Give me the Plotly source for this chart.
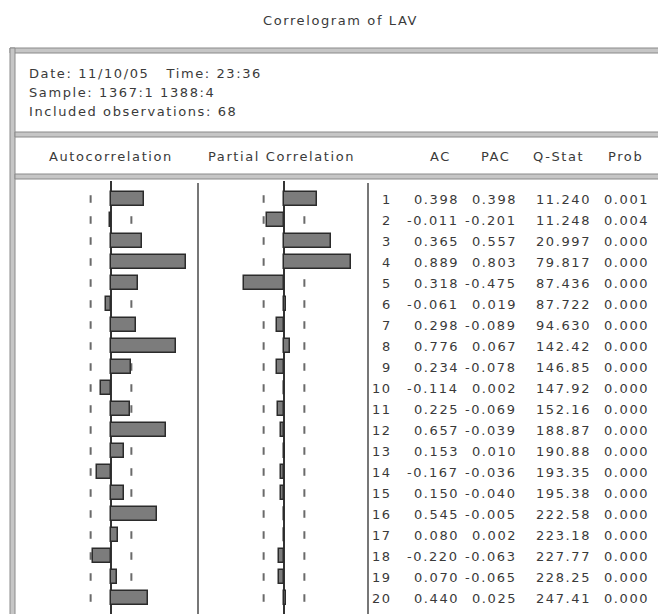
import numpy as np
import plotly.graph_objects as go

# ---- correlogram data ----
lags = list(range(1, 21))
ac = [0.398, -0.011, 0.365, 0.889, 0.318, -0.061, 0.298, 0.776, 0.234, -0.114,
      0.225, 0.657, 0.153, -0.167, 0.150, 0.545, 0.080, -0.220, 0.070, 0.440]
pac = [0.398, -0.201, 0.557, 0.803, -0.475, 0.019, -0.089, 0.067, -0.078, 0.002,
       -0.069, -0.039, 0.010, -0.036, -0.040, -0.005, 0.002, -0.063, -0.065, 0.025]
q_stat = [11.240, 11.248, 20.997, 79.817, 87.436, 87.722, 94.630, 142.42, 146.85, 147.92,
          152.16, 188.87, 190.88, 193.35, 195.38, 222.58, 223.18, 227.77, 228.25, 247.41]
prob = [0.001, 0.004, 0.000, 0.000, 0.000, 0.000, 0.000, 0.000, 0.000, 0.000,
        0.000, 0.000, 0.000, 0.000, 0.000, 0.000, 0.000, 0.000, 0.000, 0.000]
n_obs = 68
header_lines = ["Date: 11/10/05   Time: 23:36",
                "Sample: 1367:1 1388:4",
                "Included observations: 68"]
col_titles = ["Autocorrelation", "Partial Correlation", "AC", "PAC", "Q-Stat", "Prob"]

# ---- page geometry (pixels) ----
W, H = 658, 614
ROW0, ROW_H = 199, 21          # centre of first lag row, row pitch
TABLE_TOP = 181
SCALE = 84.0                   # pixels per unit of correlation
AC_L, AC_ZERO, AC_R = 15, 111, 198
PAC_L, PAC_ZERO, PAC_R = 198, 284, 368

FONT = "DejaVu Sans"
TXT = "#3a3a3a"


def px(x):
    return x / W


def py(y):
    return 1 - y / H


def spaced(s, ls=1.6):
    return f'<span style="letter-spacing:{ls}px">{s}</span>'


lag_top = 1 - (ROW0 - TABLE_TOP) / ROW_H
lag_bot = 1 + (H - ROW0) / ROW_H
bound = 2 / np.sqrt(n_obs)

fig = go.Figure()

bar_style = dict(orientation="h", width=0.62,
                 marker=dict(color="#7c7c7c", line=dict(color="#2b2b2b", width=1.5)),
                 hoverinfo="skip", showlegend=False)
fig.add_trace(go.Bar(x=ac, y=lags, xaxis="x2", yaxis="y2", **bar_style))
fig.add_trace(go.Bar(x=pac, y=lags, xaxis="x3", yaxis="y2", **bar_style))

shapes = []
# significance bounds, one short dash per lag row
for xr in ("x2", "x3"):
    for k in lags:
        for b in (-bound, bound):
            shapes.append(dict(type="line", xref=xr, yref="y2", x0=b, x1=b,
                               y0=k - 0.18, y1=k + 0.18, layer="below",
                               line=dict(color="#6a6a6a", width=2)))


def band(x0, y0, x1, y1):
    shapes.append(dict(type="rect", xref="paper", yref="paper",
                       x0=px(x0), x1=px(x1), y0=py(y0), y1=py(y1),
                       fillcolor="#c6c6c6", line=dict(color="#8a8a8a", width=1),
                       layer="above"))


band(10, 48, W + 5, 53)        # top frame
band(10, 48, 15, H + 5)        # left frame
band(15, 132, W + 5, 137)      # under the sample info
band(15, 174, W + 5, 179)      # under the column titles

# column dividers in the table body
for xv in (AC_R, PAC_R):
    shapes.append(dict(type="line", xref="paper", yref="paper",
                       x0=px(xv), x1=px(xv), y0=py(183), y1=py(H),
                       line=dict(color="#4a4a4a", width=1.5)))

annotations = []


def label(text, x, y, anchor="left", yref="paper", size=13):
    annotations.append(dict(text=spaced(text), x=px(x), y=(py(y) if yref == "paper" else y),
                            xref="paper", yref=yref, xanchor=anchor, yanchor="middle",
                            showarrow=False, font=dict(family=FONT, size=size, color=TXT)))


label("Correlogram of LAV", 340, 20, anchor="center")
for i, line in enumerate(header_lines):
    label(line, 27, 73 + i * 19.5)

title_x = [111, 281, 440, 496, 558, 625]
for t, xc in zip(col_titles, title_x):
    label(t, xc, 156, anchor="center")


def fmt_q(q):
    return f"{q:.3f}" if q < 100 else f"{q:.2f}"


for k, a, p, q, pr in zip(lags, ac, pac, q_stat, prob):
    label(str(k), 394, k, anchor="right", yref="y2")
    label(f"{a:.3f}", 461, k, anchor="right", yref="y2")
    label(f"{p:.3f}", 519, k, anchor="right", yref="y2")
    label(fmt_q(q), 593, k, anchor="right", yref="y2")
    label(f"{pr:.3f}", 651, k, anchor="right", yref="y2")

hidden = dict(showticklabels=False, showgrid=False, showline=False, ticks="", fixedrange=True)
fig.update_layout(
    width=W, height=H,
    margin=dict(l=0, r=0, t=0, b=0),
    paper_bgcolor="white", plot_bgcolor="white",
    showlegend=False,
    bargap=0,
    xaxis2=dict(domain=[px(AC_L), px(AC_R)],
                range=[-(AC_ZERO - AC_L) / SCALE, (AC_R - AC_ZERO) / SCALE],
                anchor="y2", zeroline=True, zerolinecolor="#333333", zerolinewidth=1.5,
                **hidden),
    xaxis3=dict(domain=[px(PAC_L), px(PAC_R)],
                range=[-(PAC_ZERO - PAC_L) / SCALE, (PAC_R - PAC_ZERO) / SCALE],
                anchor="y2", zeroline=True, zerolinecolor="#333333", zerolinewidth=1.5,
                **hidden),
    yaxis2=dict(domain=[0, 1 - TABLE_TOP / H], range=[lag_bot, lag_top],
                anchor="x2", zeroline=False, **hidden),
    xaxis=dict(visible=False),
    yaxis=dict(visible=False),
    shapes=shapes,
    annotations=annotations,
)

fig.write_html("out.html")
